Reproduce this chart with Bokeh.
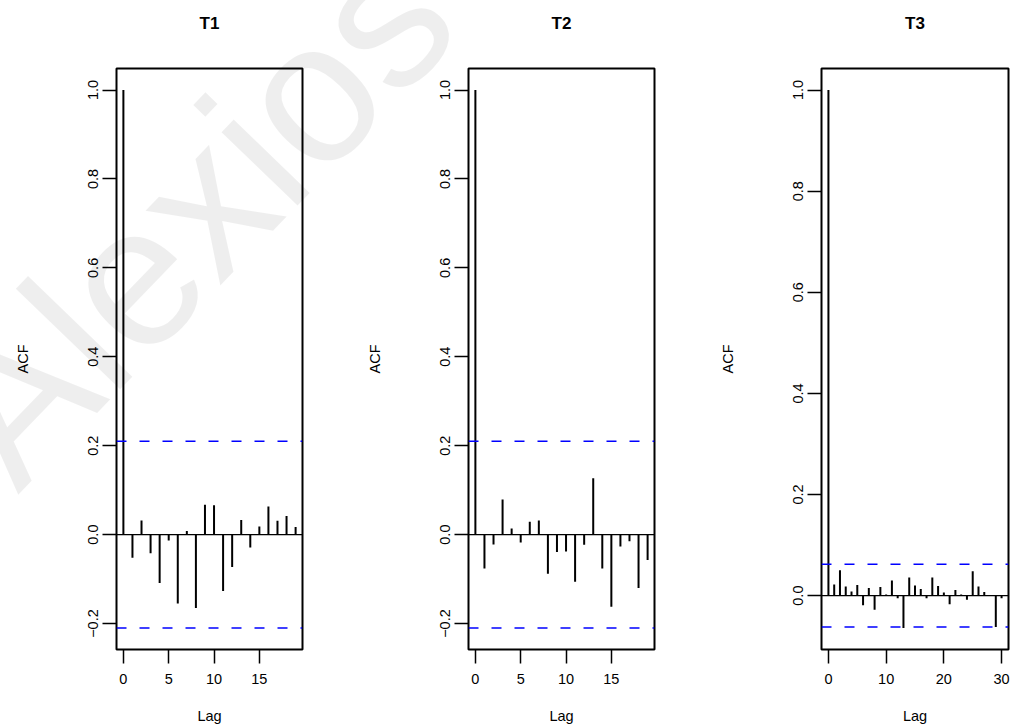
import math
from bokeh.plotting import figure
from bokeh.layouts import row
from bokeh.models import (Range1d, FixedTicker, Span, CustomJSTickFormatter,
                          LinearAxis)
from bokeh.embed import file_html
from bokeh.resources import INLINE

# ---------------- data ----------------
titles = ["T1", "T2", "T3"]
lags1 = list(range(20))
acf1 = [1.0, -0.052, 0.032, -0.042, -0.109, -0.013, -0.155, 0.008, -0.165, 0.067,
        0.066, -0.127, -0.073, 0.033, -0.029, 0.018, 0.063, 0.031, 0.042, 0.017]
lags2 = list(range(20))
acf2 = [1.0, -0.076, -0.022, 0.079, 0.014, -0.018, 0.029, 0.032, -0.088, -0.039,
        -0.038, -0.106, -0.023, 0.127, -0.076, -0.162, -0.027, -0.015, -0.120, -0.057]
lags3 = list(range(31))
acf3 = [1.0, 0.022, 0.050, 0.018, 0.008, 0.021, -0.019, 0.015, -0.028, 0.017,
        0.002, 0.030, -0.005, -0.064, 0.036, 0.020, 0.013, -0.005, 0.036, 0.019,
        0.006, -0.017, 0.011, 0.002, -0.008, 0.048, 0.018, 0.007, 0.001, -0.062,
        -0.005]
clims = [0.21, 0.21, 0.062]
xticks = [[0, 5, 10, 15], [0, 5, 10, 15], [0, 10, 20, 30]]
yticks = [[-0.2, 0.0, 0.2, 0.4, 0.6, 0.8, 1.0],
          [-0.2, 0.0, 0.2, 0.4, 0.6, 0.8, 1.0],
          [0.0, 0.2, 0.4, 0.6, 0.8, 1.0]]
watermark = "Alexios"

lags_all = [lags1, lags2, lags3]
acf_all = [acf1, acf2, acf3]

# ---------------- layout (page pixels) ----------------
FONT = "Liberation Sans"
lefts = [116, 108, 109]
rights = [58, 58, 15]
fws = [186, 186, 187]
TOP = 68
FH = 581
BOTTOM = 78

yfmt = CustomJSTickFormatter(code="""
var s = Math.abs(tick).toFixed(1);
return (tick < -1e-9 ? "\u2212" : "") + s;
""")
xfmt = CustomJSTickFormatter(code="return Math.round(tick).toString();")

figs = []
for k in range(3):
    lags = lags_all[k]
    acf = acf_all[k]
    clim = clims[k]
    xlo, xhi = min(lags), max(lags)
    xpad = 0.04 * (xhi - xlo)
    ylo = min(min(acf), -clim)
    yhi = max(max(acf), clim)
    ypad = 0.04 * (yhi - ylo)
    xr = Range1d(xlo - xpad, xhi + xpad)
    yr = Range1d(ylo - ypad, yhi + ypad)

    p = figure(frame_width=fws[k], frame_height=FH,
               min_border_left=lefts[k], min_border_right=rights[k],
               min_border_top=TOP, min_border_bottom=BOTTOM,
               x_range=xr, y_range=yr, output_backend="svg",
               toolbar_location=None, tools="")
    p.background_fill_color = "white"
    p.border_fill_color = "white"
    p.outline_line_color = "black"
    p.outline_line_width = 2
    p.xgrid.visible = False
    p.ygrid.visible = False

    xa = p.below[0]
    ya = p.left[0]

    # reference lines
    p.add_layout(Span(location=0, dimension="width", line_color="black", line_width=1.3))
    p.add_layout(Span(location=clim, dimension="width", line_color="#0000ff",
                      line_width=1.6, line_dash="10 13"))
    p.add_layout(Span(location=-clim, dimension="width", line_color="#0000ff",
                      line_width=1.6, line_dash="10 13"))

    # ACF bars
    p.segment(x0=lags, y0=[0] * len(lags), x1=lags, y1=acf,
              line_color="black", line_width=2)

    # axes
    for ax in (xa, ya):
        ax.axis_line_color = None
        ax.major_tick_in = 0
        ax.major_tick_out = 14
        ax.major_tick_line_width = 1.5
        ax.major_tick_line_color = "black"
        ax.minor_tick_line_color = None
        ax.major_label_text_font = FONT
        ax.major_label_text_font_size = "14.5px"
        ax.major_label_text_color = "black"
        ax.axis_label_text_font = FONT
        ax.axis_label_text_font_size = "14.5px"
        ax.axis_label_text_font_style = "normal"
        ax.axis_label_text_color = "black"
    xa.ticker = FixedTicker(ticks=xticks[k])
    ya.ticker = FixedTicker(ticks=yticks[k])
    xa.formatter = xfmt
    ya.formatter = yfmt
    ya.major_label_orientation = "vertical"
    ya.major_label_standoff = 4
    ya.axis_label = "ACF"
    ya.axis_label_standoff = 55
    xa.major_label_standoff = 10
    xa.axis_label = "Lag"
    xa.axis_label_standoff = 21

    # panel title: label of a bare axis above the frame
    tax = LinearAxis(ticker=FixedTicker(ticks=[]), axis_label=titles[k])
    tax.axis_line_color = None
    tax.major_tick_out = 0
    tax.major_tick_in = 0
    tax.minor_tick_out = 0
    tax.minor_tick_in = 0
    tax.major_label_standoff = 0
    tax.axis_label_standoff = 36
    tax.axis_label_text_font = FONT
    tax.axis_label_text_font_size = "17px"
    tax.axis_label_text_font_style = "bold"
    tax.axis_label_text_color = "black"
    p.add_layout(tax, "above")

    figs.append(p)

layout = row(*figs, spacing=0)
html = file_html(layout, INLINE)

# faint diagonal watermark laid over the page (it spans several panels and margins)
wm = ('<svg style="position:absolute;left:0;top:0;pointer-events:none" '
      'width="1023" height="727">'
      '<text x="18" y="495" transform="rotate(-46 18 495)" '
      'font-family="Liberation Sans" font-size="200" fill="#000" '
      'fill-opacity="0.065">%s</text></svg>' % watermark)
html = html.replace("</body>", wm + "\n</body>")
open("out.html", "w").write(html)
